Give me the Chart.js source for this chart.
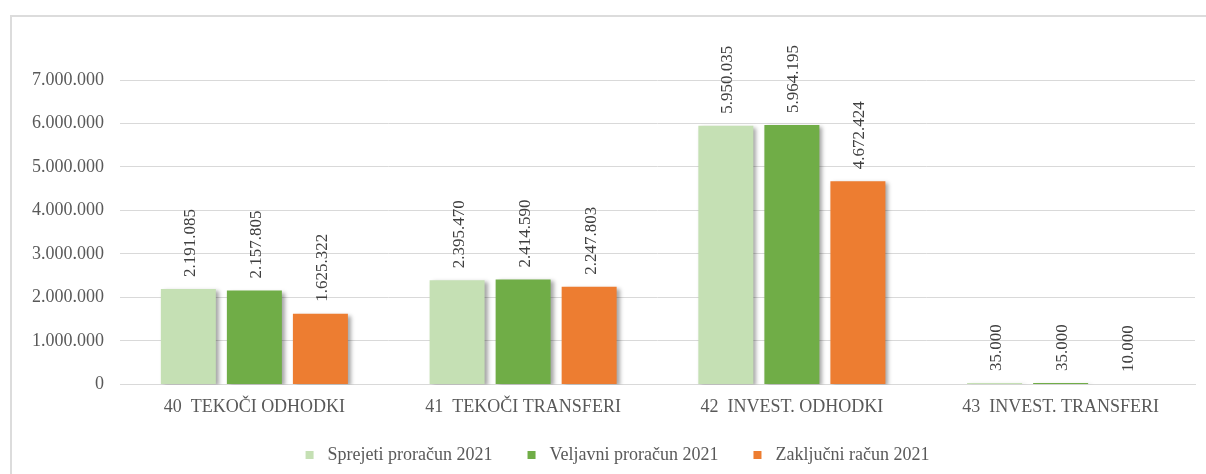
<!DOCTYPE html>
<html>
<head>
<meta charset="utf-8">
<script src="https://cdn.jsdelivr.net/npm/chart.js@4"></script>
<style>
  html, body { margin: 0; padding: 0; background: #fff; overflow: hidden; }
  #okvir { position: absolute; left: 10px; top: 15px; width: 1215px; height: 470px; border: 2px solid #dcdcdc; }
</style>
</head>
<body>
<div id="okvir"><canvas id="myChart"></canvas></div>
<script>
// Podatki
const kategorije = ["40  TEKOČI ODHODKI", "41  TEKOČI TRANSFERI", "42  INVEST. ODHODKI", "43  INVEST. TRANSFERI"];
const sprejeti   = [2191085, 2395470, 5950035, 35000];
const veljavni   = [2157805, 2414590, 5964195, 35000];
const zakljucni  = [1625322, 2247803, 4672424, 10000];
const imenaSerij = ["Sprejeti proračun 2021", "Veljavni proračun 2021", "Zaključni račun 2021"];
const barve      = ["#C5E0B4", "#70AD47", "#ED7D31"];
const yTicks     = [0, 1000000, 2000000, 3000000, 4000000, 5000000, 6000000, 7000000];

const pisava = "'Liberation Serif', 'Times New Roman', serif";

// formatiranje s pikami (slovensko)
let fmt = (v) => String(v).replace(/\B(?=(\d{3})+(?!\d))/g, ".");

// senca pod stolpci
const sencaPlugin = {
  id: "senca",
  beforeDatasetsDraw(chart) {
    const ctx = chart.ctx;
    ctx.save();
    ctx.shadowColor = "rgba(0,0,0,0.35)";
    ctx.shadowBlur = 4;
    ctx.shadowOffsetX = 3;
    ctx.shadowOffsetY = 2;
  },
  afterDatasetsDraw(chart) {
    chart.ctx.restore();
  }
};

// navpicne oznake vrednosti nad stolpci
const oznakePlugin = {
  id: "oznake",
  afterDatasetsDraw(chart) {
    const ctx = chart.ctx;
    ctx.save();
    ctx.font = "17px " + pisava;
    ctx.fillStyle = "#404040";
    ctx.textAlign = "left";
    ctx.textBaseline = "middle";
    chart.data.datasets.forEach((ds, i) => {
      chart.getDatasetMeta(i).data.forEach((bar, j) => {
        ctx.save();
        ctx.translate(bar.x + 2, bar.y - 12);
        ctx.rotate(-Math.PI / 2);
        ctx.fillText(fmt(ds.data[j]), 0, 0);
        ctx.restore();
      });
    });
    ctx.restore();
  }
};

// legenda spodaj (kot v Excelu)
const legendaPlugin = {
  id: "legenda",
  afterDraw(chart) {
    const ctx = chart.ctx;
    const boxW = 8, gapText = 14, gapItem = 35;
    ctx.save();
    ctx.font = "18px " + pisava;
    ctx.textBaseline = "middle";
    ctx.textAlign = "left";
    const items = chart.data.datasets.map((ds) => ({ text: ds.label, color: ds.backgroundColor, w: ctx.measureText(ds.label).width }));
    const total = items.reduce((s, it) => s + boxW + gapText + it.w, 0) + gapItem * (items.length - 1);
    let x = 605.5 - total / 2;
    const y = 438;
    items.forEach((it) => {
      ctx.fillStyle = it.color;
      ctx.fillRect(x, y - 4, boxW, boxW);
      ctx.fillStyle = "#595959";
      ctx.fillText(it.text, x + boxW + gapText, y);
      x += boxW + gapText + it.w + gapItem;
    });
    ctx.restore();
  }
};

function renderGrafica() {
  const datasets = [sprejeti, veljavni, zakljucni].map((d, i) => ({
    label: imenaSerij[i],
    data: d,
    backgroundColor: barve[i],
    borderWidth: 0,
    categoryPercentage: 0.737,
    barPercentage: 0.833
  }));
  new Chart(document.getElementById("myChart"), {
    type: "bar",
    data: { labels: kategorije, datasets },
    options: {
      responsive: true,
      maintainAspectRatio: false,
      animation: false,
      layout: { padding: { left: 20, right: 32, top: 63, bottom: 57 } },
      scales: {
        x: {
          grid: { display: false, drawTicks: false },
          border: { color: "#d9d9d9", width: 1 },
          ticks: { color: "#595959", font: { family: pisava, size: 18 }, padding: 12, maxRotation: 0 }
        },
        y: {
          min: 0,
          max: 7000000,
          afterBuildTicks: (s) => { s.ticks = yTicks.map((v) => ({ value: v })); },
          grid: { color: "#d9d9d9", lineWidth: 1, drawTicks: false },
          border: { display: false },
          ticks: { color: "#595959", font: { family: pisava, size: 18 }, padding: 16, callback: (v) => fmt(v) },
          afterFit: (s) => { s.width = 88; }
        }
      },
      plugins: {
        legend: { display: false },
        tooltip: { enabled: false }
      }
    },
    plugins: [sencaPlugin, oznakePlugin, legendaPlugin]
  });
}
renderGrafica();
</script>
</body>
</html>
